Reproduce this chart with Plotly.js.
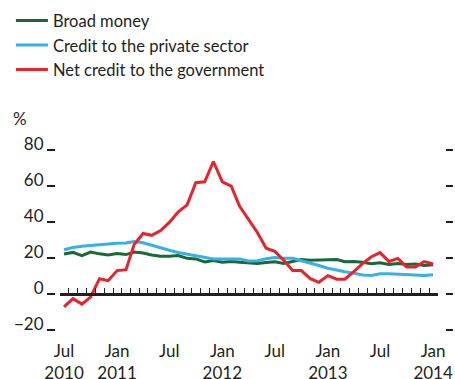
<!DOCTYPE html>
<html>
<head>
<meta charset="utf-8">
<script src="https://cdn.plot.ly/plotly-3.0.1.min.js"></script>
<style>html,body{margin:0;padding:0;background:#fff;}#chart{width:455px;height:379px;}</style>
</head>
<body>
<div id="chart"></div>
<script>
// Monthly observations, Jul 2010 – Jan 2014 (plotted mid-month)
const months = [
  "2010-07-15","2010-08-15","2010-09-15","2010-10-15","2010-11-15","2010-12-15",
  "2011-01-15","2011-02-15","2011-03-15","2011-04-15","2011-05-15","2011-06-15",
  "2011-07-15","2011-08-15","2011-09-15","2011-10-15","2011-11-15","2011-12-15",
  "2012-01-15","2012-02-15","2012-03-15","2012-04-15","2012-05-15","2012-06-15",
  "2012-07-15","2012-08-15","2012-09-15","2012-10-15","2012-11-15","2012-12-15",
  "2013-01-15","2013-02-15","2013-03-15","2013-04-15","2013-05-15","2013-06-15",
  "2013-07-15","2013-08-15","2013-09-15","2013-10-15","2013-11-15","2013-12-15",
  "2014-01-15"
];
const broadMoney = [
  22.2, 23.1, 21.3, 23.3, 22.3, 21.7, 22.5, 21.9, 23.3, 22.8, 21.7, 21.0,
  21.0, 21.4, 19.8, 19.5, 17.8, 18.6, 17.7, 18.0, 17.6, 17.3, 16.9, 17.5,
  17.9, 16.9, 18.2, 19.2, 18.8, 19.0, 18.8, 19.1, 17.9, 18.1, 17.6, 16.8,
  17.3, 16.4, 16.9, 16.4, 16.7, 15.8, 16.3
];
const privateCredit = [
  24.6, 25.8, 26.5, 27.0, 27.6, 27.8, 28.2, 28.4, 29.1, 28.5, 27.0, 25.6,
  24.3, 23.1, 22.2, 21.3, 20.6, 19.5, 19.5, 19.6, 19.5, 18.3, 18.5, 19.6,
  20.3, 19.8, 19.8, 18.5, 17.3, 15.8, 14.3, 13.2, 12.4, 11.6, 10.6, 10.3,
  11.2, 11.2, 11.0, 10.8, 10.8, 10.3, 10.7
];
const govCredit = [
  -7.2, -2.6, -5.6, -1.7, 8.5, 7.4, 13.0, 13.5, 27.4, 33.6, 32.6, 35.2,
  39.8, 45.6, 49.5, 61.8, 62.3, 73.6, 62.3, 59.9, 48.7, 41.3, 34.3, 25.4,
  23.7, 18.8, 13.1, 13.0, 8.5, 6.5, 10.2, 8.2, 8.2, 12.4, 16.9, 20.7,
  23.0, 18.1, 19.8, 15.0, 15.0, 18.0, 16.7
];
const seriesNames = ["Broad money", "Credit to the private sector", "Net credit to the government"];
const xTickVals = ["2010-07-15","2011-01-15","2011-07-15","2012-01-15","2012-07-15","2013-01-15","2013-07-15","2014-01-15"];
const xTickText = ["Jul<br>2010","Jan<br>2011","Jul","Jan<br>2012","Jul","Jan<br>2013","Jul","Jan<br>2014"];
const yTickVals = [-20, 0, 20, 40, 60, 80];

const colors = ["#19683a", "#36b1e6", "#e8232b"];
const textColor = "#231f20";
const FONT = "Lato, 'Open Sans', sans-serif";
const xRange = ["2010-07-01", "2014-02-01"];
const yRange = [-25, 85];

const traces = [broadMoney, privateCredit, govCredit].map((vals, i) => ({
  type: "scatter", mode: "lines", name: seriesNames[i],
  x: months, y: vals,
  line: {color: colors[i], width: 3},
  hoverinfo: "skip"
}));

const zeroPos = (0 - yRange[0]) / (yRange[1] - yRange[0]);

const layout = {
  width: 455, height: 379,
  margin: {l: 55, r: 10, t: 141, b: 40, autoexpand: false},
  paper_bgcolor: "#ffffff", plot_bgcolor: "#ffffff",
  font: {family: FONT, color: textColor, size: 17},
  showlegend: true,
  legend: {
    x: -0.113, y: 1.695, xanchor: "left", yanchor: "top",
    itemwidth: 32,
    font: {family: FONT, size: 16.5, color: textColor},
    bgcolor: "rgba(0,0,0,0)", tracegroupgap: 0
  },
  xaxis: {
    type: "date", range: xRange, domain: [5/390, 383/390],
    tickvals: xTickVals, ticktext: xTickText,
    ticks: "", showline: false, showgrid: false, zeroline: false,
    tickfont: {family: FONT, size: 17, color: textColor},
    fixedrange: true
  },
  xaxis2: {
    type: "date", range: xRange, overlaying: "x", anchor: "free", position: zeroPos,
    showline: true, linecolor: textColor, linewidth: 2.5,
    ticks: "inside", ticklen: 5, tickwidth: 1, tickcolor: textColor,
    dtick: "M1", tick0: "2010-07-01",
    showticklabels: false, showgrid: false, zeroline: false, layer: "above traces",
    fixedrange: true
  },
  // tick labels (raised so each dash sits at the baseline of its number)
  yaxis: {
    range: yRange, anchor: "free", position: 0, side: "left",
    tickvals: yTickVals, ticks: "outside", ticklen: 8, tickwidth: 1.5, tickcolor: textColor,
    ticklabelshift: -6,
    showline: false, showgrid: false, zeroline: false,
    tickfont: {family: FONT, size: 17, color: textColor},
    fixedrange: true
  },
  // left dashes
  yaxis3: {
    range: yRange, overlaying: "y", anchor: "free", position: 0, side: "left",
    tickvals: yTickVals, ticks: "outside", ticklen: 8, tickwidth: 1.5, tickcolor: textColor,
    showticklabels: false, showline: false, showgrid: false, zeroline: false,
    fixedrange: true
  },
  // right dashes
  yaxis2: {
    range: yRange, overlaying: "y", anchor: "free", position: 1, side: "right",
    tickvals: yTickVals, ticks: "outside", ticklen: 7, tickwidth: 1.5, tickcolor: textColor,
    showticklabels: false, showline: false, showgrid: false, zeroline: false,
    fixedrange: true
  },
  annotations: [{
    text: "%", xref: "paper", yref: "paper", x: -0.09, y: 1.116,
    xanchor: "center", yanchor: "middle", showarrow: false,
    font: {family: FONT, size: 17, color: textColor}
  }]
};

// invisible helper traces so the overlay axes are drawn
traces.push({type: "scatter", mode: "none", x: xRange, y: [null, null], xaxis: "x2", yaxis: "y2", showlegend: false, hoverinfo: "skip"});
traces.push({type: "scatter", mode: "none", x: xRange, y: [null, null], xaxis: "x", yaxis: "y3", showlegend: false, hoverinfo: "skip"});

Plotly.newPlot("chart", traces, layout, {displayModeBar: false, staticPlot: true});
</script>
</body>
</html>
